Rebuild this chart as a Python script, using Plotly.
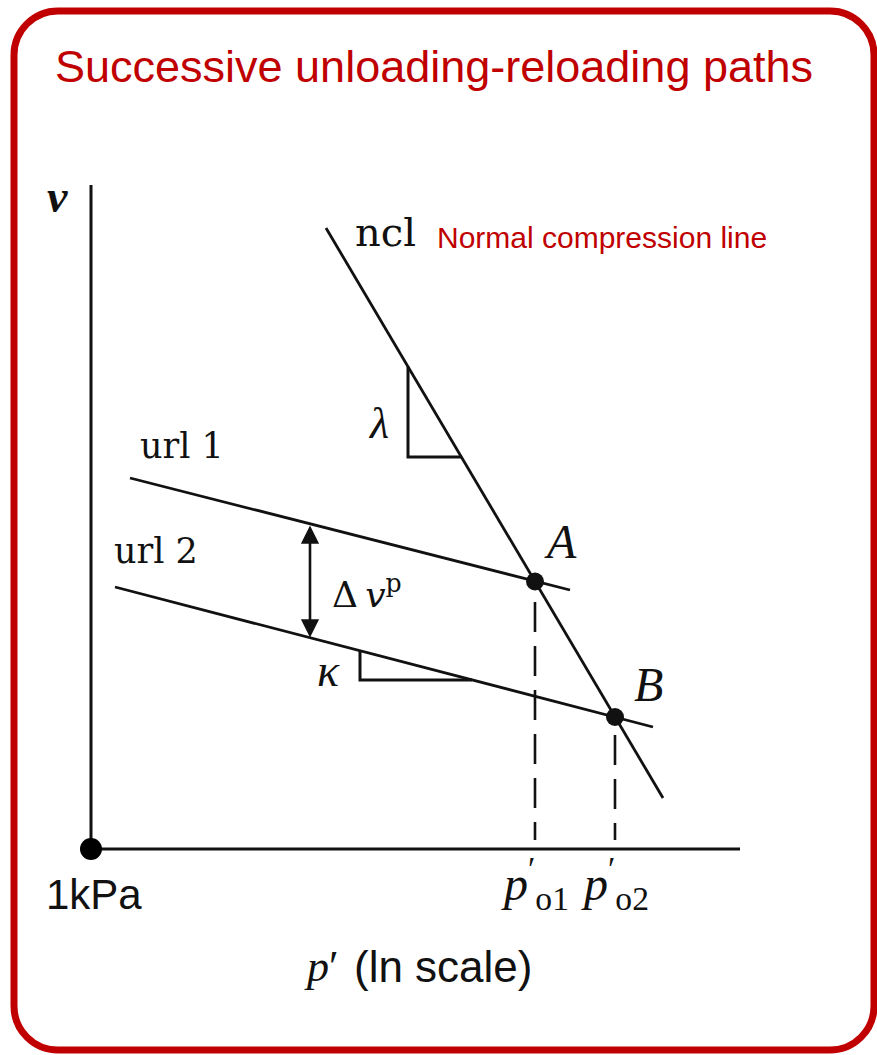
import plotly.graph_objects as go

W, H = 877, 1055
RED = "#C00000"
INK = "#111111"

# x = ln(p'/1 kPa), y = specific volume v
ncl_lnp = [2.35, 5.72]
ncl_v = [2.742, 1.602]
url1_lnp = [0.39, 4.79]
url1_v = [2.242, 2.018]
url2_lnp = [0.24, 5.62]
url2_v = [2.024, 1.744]
yield_names = ["A", "B"]
yield_lnp = [4.44, 5.24]
yield_v = [2.035, 1.764]
yield_ticks = ["o1", "o2"]
dash_top_v = [1.994, 1.728]
dash_bottom_v = 1.518
lambda_lnp = [3.17, 3.17, 3.70]
lambda_v = [2.465, 2.284, 2.284]
kappa_lnp = [2.69, 2.69, 3.81]
kappa_v = [1.896, 1.838, 1.838]
dvp_lnp = 2.19
dvp_v = [2.150, 1.923]
axis_lnp = [0.0, 6.49]
axis_v = [1.5, 2.828]
origin_label = "1kPa"

X_RANGE = [-0.91, 7.86]
Y_RANGE = [1.088, 3.198]


def px(x):
    return x / W


def py(y):
    return 1 - y / H


fig = go.Figure()


def line(xs, ys, width=2.8, dash="solid", color=INK):
    fig.add_trace(go.Scatter(
        x=xs, y=ys, mode="lines", hoverinfo="skip",
        line=dict(color=color, width=width, dash=dash),
    ))


# axes
line([axis_lnp[0], axis_lnp[0], None, axis_lnp[0], axis_lnp[1]],
     [axis_v[1], axis_v[0], None, axis_v[0], axis_v[0]], width=3)

# normal compression line and unloading-reloading lines
line(ncl_lnp, ncl_v)
line(url1_lnp, url1_v)
line(url2_lnp, url2_v)

# slope triangles
line(lambda_lnp, lambda_v, width=3)
line(kappa_lnp, kappa_v, width=3)

# drop lines from yield points to the p' axis
for lnp, top in zip(yield_lnp, dash_top_v):
    line([lnp, lnp], [top, dash_bottom_v], width=2.6, dash="30px,14px")

# yield points and origin
fig.add_trace(go.Scatter(
    x=yield_lnp, y=yield_v, mode="markers", hoverinfo="skip",
    marker=dict(color=INK, size=18),
))
fig.add_trace(go.Scatter(
    x=[axis_lnp[0]], y=[axis_v[0]], mode="markers", hoverinfo="skip",
    marker=dict(color="black", size=22),
))

annotations = []


def text(x, y, s, size, family, color=INK, xanchor="center", yanchor="middle"):
    annotations.append(dict(
        x=px(x), y=py(y), xref="paper", yref="paper", text=s, showarrow=False,
        xanchor=xanchor, yanchor=yanchor,
        font=dict(size=size, family=family, color=color),
    ))


SANS = "Liberation Sans, Arial, sans-serif"
SERIF = "DejaVu Serif, serif"
TIMES = "Liberation Serif, Times New Roman, serif"

text(53, 67, "Successive unloading-reloading paths", 45, SANS, RED, xanchor="left")
text(435, 237, "Normal compression line", 30, SANS, RED, xanchor="left")
text(353, 232, "ncl", 40, SERIF, xanchor="left")
text(138, 446, "url 1", 35, SERIF, xanchor="left")
text(112, 551, "url 2", 35, SERIF, xanchor="left")
text(57, 196, "<b><i>v</i></b>", 46, TIMES)
text(378, 424, "<i>λ</i>", 44, TIMES)
text(328, 670, "<i>κ</i>", 46, TIMES)
text(330, 592, "Δ\u2009<i>v</i><sup>p</sup>", 36, SERIF, xanchor="left")
text(44, 894, origin_label, 42, SANS, xanchor="left")
text(302, 966, "<i>p</i>′", 44, TIMES, xanchor="left")
text(352, 966, "(ln scale)", 44, SANS, xanchor="left")

# labels tied to the yield points
for name, lnp, v, tick in zip(yield_names, yield_lnp, yield_v, yield_ticks):
    annotations.append(dict(
        x=lnp, y=v, xref="x", yref="y", text=f"<i>{name}</i>", showarrow=False,
        xshift=25 if name == "A" else 33, yshift=40 if name == "A" else 33,
        font=dict(size=48, family=TIMES, color=INK),
    ))
    annotations.append(dict(
        x=lnp, y=axis_v[0], xref="x", yref="y",
        text=f"<i>p</i><sup>′</sup><sub>{tick}</sub>", showarrow=False,
        xanchor="left", yanchor="top", xshift=-36, yshift=1,
        font=dict(size=48, family=TIMES, color=INK),
    ))

# plastic volume change between the two unloading-reloading lines
annotations.append(dict(
    x=dvp_lnp, y=dvp_v[1], ax=dvp_lnp, ay=dvp_v[0], xref="x", yref="y",
    axref="x", ayref="y", text="", showarrow=True, arrowside="end+start",
    arrowhead=2, arrowsize=1.4, arrowwidth=2.6, arrowcolor=INK,
    standoff=0, startstandoff=0,
))

# rounded frame
L, T, R, B, r = 14, 11, 874, 1050, 44
k = 0.5523 * r


def P(x, y):
    return f"{px(x):.5f},{py(y):.5f}"


frame = (
    f"M {P(L + r, T)} L {P(R - r, T)} "
    f"C {P(R - r + k, T)} {P(R, T + r - k)} {P(R, T + r)} "
    f"L {P(R, B - r)} "
    f"C {P(R, B - r + k)} {P(R - r + k, B)} {P(R - r, B)} "
    f"L {P(L + r, B)} "
    f"C {P(L + r - k, B)} {P(L, B - r + k)} {P(L, B - r)} "
    f"L {P(L, T + r)} "
    f"C {P(L, T + r - k)} {P(L + r - k, T)} {P(L + r, T)} Z"
)

fig.update_layout(
    width=W, height=H, margin=dict(l=0, r=0, t=0, b=0),
    paper_bgcolor="white", plot_bgcolor="white", showlegend=False,
    xaxis=dict(range=X_RANGE, visible=False, fixedrange=True),
    yaxis=dict(range=Y_RANGE, visible=False, fixedrange=True),
    annotations=annotations,
    shapes=[dict(type="path", path=frame, xref="paper", yref="paper",
                 line=dict(color=RED, width=7), layer="above")],
)

fig.write_html("out.html", config={"displayModeBar": False})
